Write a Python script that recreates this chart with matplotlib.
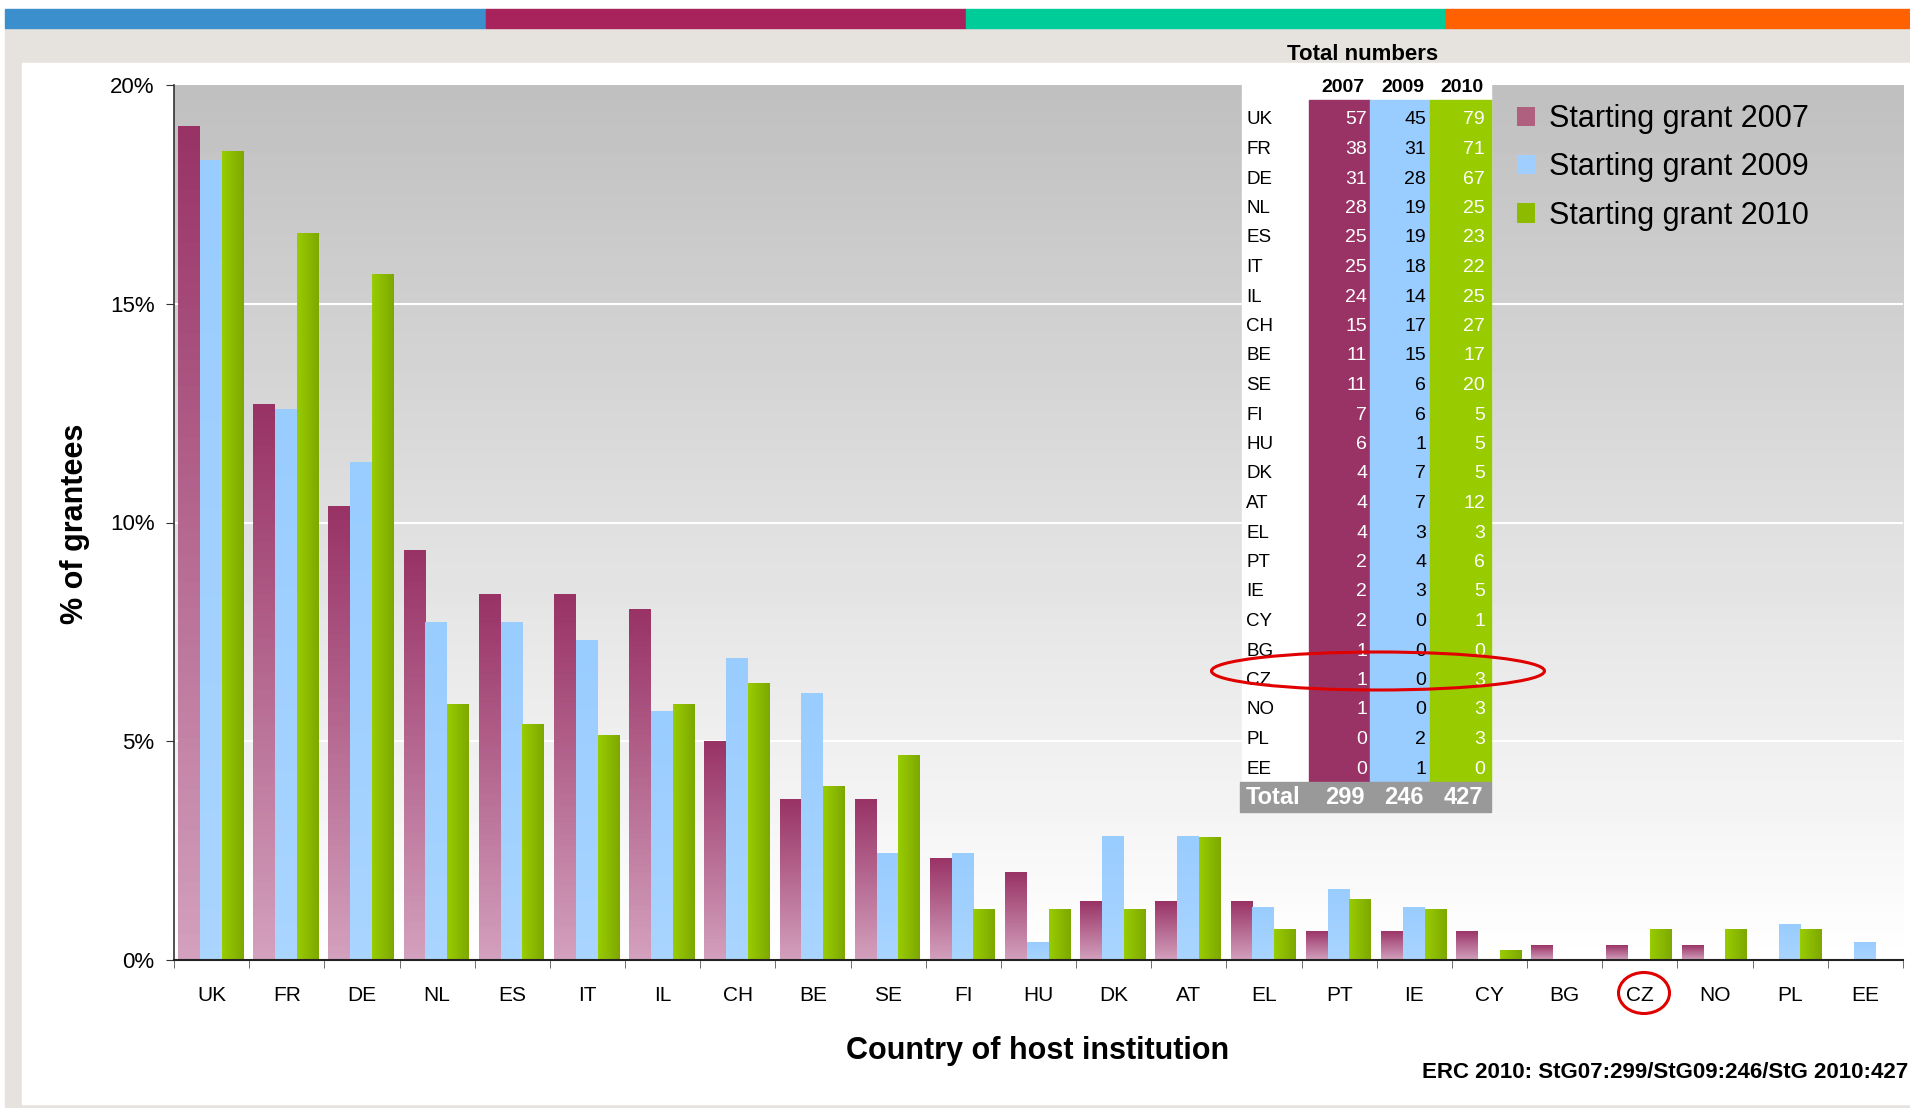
import numpy as np
import matplotlib
matplotlib.use('Agg')
import matplotlib.pyplot as plt
from matplotlib.patches import Rectangle, Ellipse, Patch
from matplotlib.colors import to_rgb

plt.rcParams['font.family'] = ['Liberation Sans', 'DejaVu Sans']

# data: number of starting grants per country of host institution
countries = ['UK', 'FR', 'DE', 'NL', 'ES', 'IT', 'IL', 'CH', 'BE', 'SE', 'FI', 'HU',
             'DK', 'AT', 'EL', 'PT', 'IE', 'CY', 'BG', 'CZ', 'NO', 'PL', 'EE']
grants_2007 = [57, 38, 31, 28, 25, 25, 24, 15, 11, 11, 7, 6, 4, 4, 4, 2, 2, 2, 1, 1, 1, 0, 0]
grants_2009 = [45, 31, 28, 19, 19, 18, 14, 17, 15, 6, 6, 1, 7, 7, 3, 4, 3, 0, 0, 0, 0, 2, 1]
grants_2010 = [79, 71, 67, 25, 23, 22, 25, 27, 17, 20, 5, 5, 5, 12, 3, 6, 5, 1, 0, 3, 3, 3, 0]
totals = [299, 246, 427]
years = ['2007', '2009', '2010']
series_labels = ['Starting grant 2007', 'Starting grant 2009', 'Starting grant 2010']
yticks = [0, 5, 10, 15, 20]

W, H = 1910, 1108


def fx(x):
    return x / W


def fy(y):
    return 1 - y / H


def ramp(c1, c2, n=64):
    a = np.array(to_rgb(c1))
    b = np.array(to_rgb(c2))
    t = np.linspace(0, 1, n)[:, None]
    return a + (b - a) * t


fig = plt.figure(figsize=(W / 100, H / 100), dpi=100, facecolor='white')

# page background: grey frame, white panel, colour strip on top
fig.add_artist(Rectangle((fx(5), 0), 1 - fx(5), fy(28), transform=fig.transFigure,
                         color='#E6E2DE', zorder=-5))
fig.add_artist(Rectangle((fx(22), fy(1104)), 1 - fx(22), (1104 - 63) / H,
                         transform=fig.transFigure, color='white', zorder=-4))
strip = [('#3A8FCC', 5, 486), ('#A8235C', 486, 966), ('#00CC99', 966, 1446), ('#FF6000', 1446, 1910)]
for c, x0, x1 in strip:
    fig.add_artist(Rectangle((fx(x0), fy(28)), (x1 - x0) / W, 19 / H,
                             transform=fig.transFigure, color=c, zorder=-4))

ax = fig.add_axes([fx(174), fy(960), (1903 - 174) / W, (960 - 85) / H])
ax.set_facecolor('none')

x = np.arange(len(countries))
pct = [np.array(v) / t * 100 for v, t in zip([grants_2007, grants_2009, grants_2010], totals)]

# plot area gradient
bg = ramp('#C0C0C0', '#FFFFFF')[:, None, :]
ax.imshow(bg, extent=(-0.5, len(countries) - 0.5, 0, 20), aspect='auto', zorder=0)
for yv in [5, 10, 15]:
    ax.axhline(yv, color='white', lw=1.5, zorder=1)

bw = 0.29
offsets = [-0.30, -0.01, 0.28]
base_cols = ['#B0607F', '#A0CFFF', '#8CBB00']
grads = [(ramp('#993366', '#D3A0BD'), False),
         (ramp('#99CCFF', '#A9D5FF'), False),
         (ramp('#99CC00', '#7DA800'), True)]

for k in range(3):
    bars = ax.bar(x + offsets[k], pct[k], width=bw, color=base_cols[k], zorder=2, lw=0)
    g, horiz = grads[k]
    img = g[None, :, :] if horiz else g[:, None, :]
    for r in bars:
        h = r.get_height()
        if h <= 0:
            continue
        x0 = r.get_x()
        im = ax.imshow(img, extent=(x0, x0 + r.get_width(), 0, h), aspect='auto', zorder=2.1)
        im.set_clip_path(r)

ax.set_xlim(-0.5, len(countries) - 0.5)
ax.set_ylim(0, 20)

for s in ['top', 'right']:
    ax.spines[s].set_visible(False)
ax.spines['left'].set_color('#333333')
ax.spines['bottom'].set_color('#222222')
ax.spines['left'].set_linewidth(1.2)
ax.spines['bottom'].set_linewidth(1.5)

ax.set_yticks(yticks)
ax.set_yticklabels([f'{v}%' for v in yticks], fontsize=16)
ax.tick_params(axis='y', direction='out', length=6, pad=8, color='#333333')
ax.set_xticks(x)
ax.set_xticklabels(countries, fontsize=15)
ax.set_xticks(np.arange(-0.5, len(countries)), minor=True)
ax.tick_params(axis='x', which='major', length=0, pad=19)
ax.tick_params(axis='x', which='minor', direction='out', length=6, color='#555555')

fig.text(fx(1038), fy(1051), 'Country of host institution', ha='center', va='center',
         fontsize=22, fontweight='bold')
fig.text(fx(75), fy(524), '% of grantees', ha='center', va='center', rotation=90,
         fontsize=22, fontweight='bold')
fig.text(fx(1908), fy(1072), 'ERC 2010: StG07:299/StG09:246/StG 2010:427', ha='right',
         va='center', fontsize=16, fontweight='bold')

# legend
handles = [Patch(facecolor=c, edgecolor='none') for c in ['#B0607F', '#A0CFFF', '#8CBB00']]
ax.legend(handles, series_labels, loc='upper left', bbox_to_anchor=(fx(1517), fy(104)),
          bbox_transform=fig.transFigure, frameon=False, fontsize=22, handlelength=0.6,
          handleheight=0.6, handletextpad=0.45, labelspacing=0.6, borderpad=0, borderaxespad=0)

# table of totals
fig.add_artist(Rectangle((fx(1242), fy(782)), (1491 - 1242) / W, (782 - 67) / H,
                         transform=fig.transFigure, color='white', zorder=5))
col_edges = [1309, 1370, 1430, 1491]
col_colors = ['#993366', '#99CCFF', '#99CC00']
txt_colors = ['white', 'black', 'white']
for k in range(3):
    fig.add_artist(Rectangle((fx(col_edges[k]), fy(782)), (col_edges[k + 1] - col_edges[k]) / W,
                             (782 - 100) / H, transform=fig.transFigure, color=col_colors[k], zorder=6))
fig.add_artist(Rectangle((fx(1240), fy(812)), (1491 - 1240) / W, 30 / H,
                         transform=fig.transFigure, color='#999999', zorder=6))

fig.text(fx(1363), fy(54), 'Total numbers', ha='center', va='center', fontsize=16,
         fontweight='bold', zorder=7)
val_right = [1367, 1426, 1485]
for k in range(3):
    fig.text(fx(val_right[k] - 2), fy(88), years[k], ha='right', va='center', fontsize=14,
             fontweight='bold', zorder=7)
counts = [grants_2007, grants_2009, grants_2010]
for i, c in enumerate(countries):
    yy = 120 + i * 29.5
    fig.text(fx(1246), fy(yy), c, ha='left', va='center', fontsize=13.5, zorder=7)
    for k in range(3):
        fig.text(fx(val_right[k]), fy(yy), str(counts[k][i]), ha='right', va='center',
                 fontsize=14, color=txt_colors[k], zorder=7)
fig.text(fx(1246), fy(797), 'Total', ha='left', va='center', fontsize=17, fontweight='bold',
         color='white', zorder=7)
for k in range(3):
    fig.text(fx(val_right[k] - 2), fy(797), str(totals[k]), ha='right', va='center', fontsize=17,
             fontweight='bold', color='white', zorder=7)

# red highlight marks around CZ
fig.add_artist(Ellipse((fx(1378), fy(671)), 333 / W, 38 / H, angle=0, transform=fig.transFigure,
                       fill=False, ec='#E00000', lw=2.2, zorder=8))
fig.add_artist(Ellipse((fx(1644), fy(993)), 51 / W, 41 / H, transform=fig.transFigure,
                       fill=False, ec='#E00000', lw=2.2, zorder=8))

fig.savefig('out.png', dpi=100)
